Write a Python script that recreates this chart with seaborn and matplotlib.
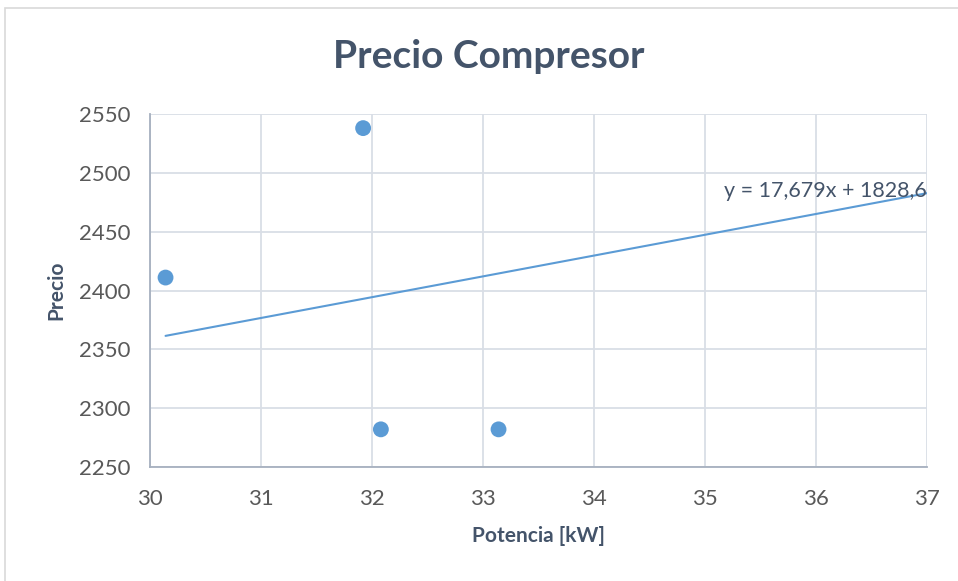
import numpy as np
import matplotlib
matplotlib.use("Agg")
import matplotlib.pyplot as plt
import seaborn as sns
from matplotlib.patches import Rectangle

# datos
potencia = [30.14, 31.92, 32.08, 33.14]
precio = [2411, 2538, 2282, 2282]
pendiente = 17.679
ordenada = 1828.6
x_tendencia = [30.14, 37.0]
x_ticks = [30, 31, 32, 33, 34, 35, 36, 37]
y_ticks = [2250, 2300, 2350, 2400, 2450, 2500, 2550]

sns.set_theme(style="white")
plt.rcParams['font.family'] = ['Lato', 'DejaVu Sans']

azul = "#5B9BD5"
texto = "#595959"
titulo_color = "#44546A"

fig = plt.figure(figsize=(9.58, 5.81), dpi=100)
# marco exterior del grafico (los bordes derecho e inferior quedan fuera)
fig.patches.append(Rectangle((5 / 958, -0.05), 1.1, 1 - 8 / 581 + 0.05,
                             transform=fig.transFigure, fill=False,
                             edgecolor="#D9D9D9", linewidth=1.2))
ax = fig.add_axes([150 / 958, 1 - 467 / 581, 777 / 958, 353 / 581])

sns.scatterplot(x=potencia, y=precio, ax=ax, color=azul, s=130, edgecolor="none", zorder=3)
y_tendencia = [pendiente * x + ordenada for x in x_tendencia]
sns.lineplot(x=x_tendencia, y=y_tendencia, ax=ax, color=azul, linewidth=1.5, zorder=2)

ax.set_xlim(30, 37)
ax.set_ylim(2250, 2550)
ax.set_xticks(x_ticks)
ax.set_yticks(y_ticks)
ax.grid(True, color="#D9DEE6", linewidth=1.3)
ax.set_axisbelow(True)
for lado in ["top", "right"]:
    ax.spines[lado].set_visible(False)
for lado in ["left", "bottom"]:
    ax.spines[lado].set_color("#A6B0BF")
    ax.spines[lado].set_linewidth(1.3)
ax.tick_params(axis="y", length=0, labelsize=16, labelcolor=texto, pad=14)
ax.tick_params(axis="x", length=0, labelsize=16, labelcolor=texto, pad=16)

ax.set_xlabel("Potencia [kW]", fontsize=15, fontweight="bold", color=titulo_color, labelpad=12)
ax.set_ylabel("Precio", fontsize=15, fontweight="bold", color=titulo_color, labelpad=9)

ax.text(37, y_tendencia[-1] + 2, "y = 17,679x + 1828,6", ha="right", va="center",
        fontsize=15.5, color=titulo_color)

fig.text(489 / 958, 1 - 57 / 581, "Precio Compresor", ha="center", va="center",
         fontsize=28, fontweight="bold", color=titulo_color)

plt.savefig("out.png", dpi=100)
